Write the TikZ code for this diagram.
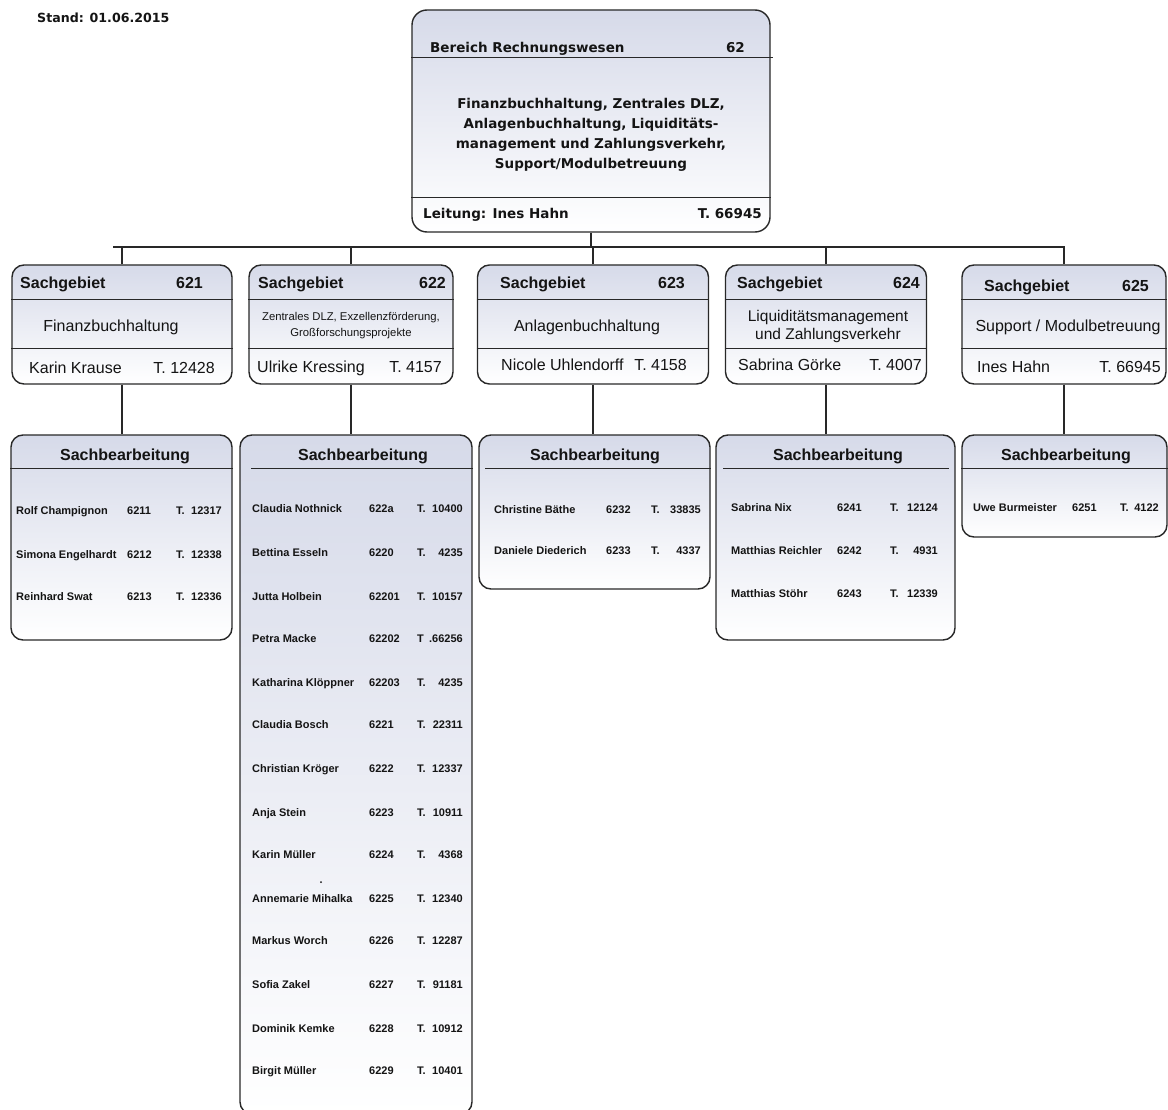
\documentclass[tikz,border=0pt]{standalone}
\usepackage{fontspec}
\setmainfont{Liberation Sans}
\newfontfamily\djv{DejaVu Sans}
\usetikzlibrary{calc}
\definecolor{boxtop}{RGB}{214,218,233}
\definecolor{boxmid}{RGB}{234,236,244}
\definecolor{boxline}{RGB}{40,40,40}
\definecolor{txt}{RGB}{20,20,20}
\tikzset{
  orgbox/.style={draw=boxline, line width=1.4pt, rounded corners=12pt,
    top color=boxtop, middle color=boxmid, bottom color=white, inner sep=0pt},
  sepline/.style={draw=boxline, line width=1.2pt},
  conn/.style={draw=boxline, line width=1.8pt},
  topfont/.style={font=\djv\bfseries\fontsize{13.5}{19.8}\selectfont, text=txt, inner sep=0pt, yshift=-2.5pt},
  sghead/.style={font=\bfseries\fontsize{16}{19}\selectfont, text=txt, inner sep=0pt, yshift=-3pt},
  sgbody/.style={font=\fontsize{16}{18}\selectfont, text=txt, inner sep=0pt, yshift=-2pt},
  sgsmall/.style={font=\fontsize{11.3}{16}\selectfont, text=txt, inner sep=0pt, align=center, yshift=-2pt},
  rowtxt/.style={font=\bfseries\fontsize{11}{13}\selectfont, text=txt, inner sep=0pt, yshift=-2pt},
}
\newcommand\hsep[4]{\draw[sepline] ($(#1.north west)+(#3,#2)$) -- ($(#1.north east)+(-#4,#2)$);}
\newcommand\orgrow[6]{%
  \node[rowtxt, anchor=mid west] (#1n) at (\xName,#2) {#3};
  \node[rowtxt, anchor=mid west] (#1c) at (\xCode,#2) {#4};
  \node[rowtxt, anchor=mid west] (#1t) at (\xTel,#2) {#5};
  \node[rowtxt, anchor=mid east] (#1r) at (\xNum,#2) {#6};}
\begin{document}
\begin{tikzpicture}[x=1pt,y=-1pt]
\useasboundingbox (0,0) rectangle (1168,1110);
\fill[white] (0,0) rectangle (1168,1110);

% Stand
\node[font=\djv\bfseries\fontsize{12.6}{15}\selectfont, text=txt, inner sep=0pt, anchor=mid west, yshift=-2.5pt] (stand) at (37,17) {Stand: 01.06.2015};

% top box
\node[orgbox, rounded corners=15pt, minimum width=358pt, minimum height=222pt] (top) at (591,121) {};
\hsep{top}{48}{0}{-2}
\hsep{top}{188}{0}{0}
\node[topfont, anchor=mid west] (toph) at (430,47) {Bereich Rechnungswesen};
\node[topfont, anchor=mid east] (topn) at (745,47) {62};
\node[topfont, align=center, yshift=0.5pt] (topb) at (591,133) {Finanzbuchhaltung, Zentrales DLZ,\\Anlagenbuchhaltung, Liquiditäts-\\management und Zahlungsverkehr,\\Support/Modulbetreuung};
\node[topfont, anchor=mid west] (topl) at (423,213) {Leitung: Ines Hahn};
\node[topfont, anchor=mid east] (topt) at (762,213) {T. 66945};

% Sachgebiet boxes
\node[orgbox, minimum width=220pt, minimum height=119pt] (sg1) at (122,324.5) {};
\node[orgbox, minimum width=204pt, minimum height=119pt] (sg2) at (351,324.5) {};
\node[orgbox, minimum width=231pt, minimum height=119pt] (sg3) at (593,324.5) {};
\node[orgbox, minimum width=201pt, minimum height=119pt] (sg4) at (826,324.5) {};
\node[orgbox, minimum width=204pt, minimum height=119pt] (sg5) at (1064,324.5) {};
\foreach \b in {sg1,sg2,sg3,sg4,sg5}{\hsep{\b}{35}{0}{0}\hsep{\b}{84}{0}{0}}

\node[sghead, anchor=mid west] (sg1h) at (20,283) {Sachgebiet};
\node[sghead, anchor=mid east] (sg1n) at (203,283) {621};
\node[sgbody] (sg1b) at (111,325) {Finanzbuchhaltung};
\node[sgbody, anchor=mid west] (sg1l) at (29,369) {Karin Krause};
\node[sgbody, anchor=mid east] (sg1t) at (215,369) {T. 12428};

\node[sghead, anchor=mid west] (sg2h) at (258,283) {Sachgebiet};
\node[sghead, anchor=mid east] (sg2n) at (446,283) {622};
\node[sgsmall] (sg2b) at (351,324) {Zentrales DLZ, Exzellenzförderung,\\Großforschungsprojekte};
\node[sgbody, anchor=mid west] (sg2l) at (257,368) {Ulrike Kressing};
\node[sgbody, anchor=mid east] (sg2t) at (442,368) {T. 4157};

\node[sghead, anchor=mid west] (sg3h) at (500,283) {Sachgebiet};
\node[sghead, anchor=mid east] (sg3n) at (685,283) {623};
\node[sgbody] (sg3b) at (587,325) {Anlagenbuchhaltung};
\node[sgbody, anchor=mid west] (sg3l) at (501,366) {Nicole Uhlendorff};
\node[sgbody, anchor=mid east] (sg3t) at (687,366) {T. 4158};

\node[sghead, anchor=mid west] (sg4h) at (737,283) {Sachgebiet};
\node[sghead, anchor=mid east] (sg4n) at (920,283) {624};
\node[sgbody, align=center, font=\fontsize{15.5}{18}\selectfont, yshift=-1pt] (sg4b) at (828,323) {Liquiditätsmanagement\\und Zahlungsverkehr};
\node[sgbody, anchor=mid west] (sg4l) at (738,366) {Sabrina Görke};
\node[sgbody, anchor=mid east] (sg4t) at (922,366) {T. 4007};

\node[sghead, anchor=mid west] (sg5h) at (984,286) {Sachgebiet};
\node[sghead, anchor=mid east] (sg5n) at (1149,286) {625};
\node[sgbody] (sg5b) at (1068,325) {Support / Modulbetreuung};
\node[sgbody, anchor=mid west] (sg5l) at (977,368) {Ines Hahn};
\node[sgbody, anchor=mid east] (sg5t) at (1161,368) {T. 66945};

% Sachbearbeitung boxes
\node[orgbox, minimum width=221pt, minimum height=205pt] (sb1) at (121.5,537.5) {};
\node[orgbox, minimum width=232pt, minimum height=679pt] (sb2) at (356,774.5) {};
\node[orgbox, minimum width=231pt, minimum height=154pt] (sb3) at (594.5,512) {};
\node[orgbox, minimum width=239pt, minimum height=205pt] (sb4) at (835.5,537.5) {};
\node[orgbox, minimum width=205pt, minimum height=102pt] (sb5) at (1064.5,486) {};
\hsep{sb1}{34}{0}{0}
\hsep{sb2}{34}{12}{0}
\hsep{sb3}{34}{7}{0}
\hsep{sb4}{34}{8}{7}
\hsep{sb5}{34}{0}{0}
\node[sghead] (sb1h) at (125,453) {Sachbearbeitung};
\node[sghead] (sb2h) at (363,453) {Sachbearbeitung};
\node[sghead] (sb3h) at (595,453) {Sachbearbeitung};
\node[sghead] (sb4h) at (838,453) {Sachbearbeitung};
\node[sghead] (sb5h) at (1066,453) {Sachbearbeitung};

% connectors
\coordinate (busL) at (113,247);
\coordinate (busR) at (1065,247);
\draw[conn] (busL) -- (busR);
\draw[conn] (top.south) -- (top.south |- busL);
\foreach \i in {1,...,5}{
  \draw[conn] (sg\i.north) -- (sg\i.north |- busL);
  \draw[conn] (sg\i.south) -- (sg\i.south |- sb\i.north);
}

% rows 621
\def\xName{16}\def\xCode{127}\def\xTel{176}\def\xNum{222}
\orgrow{a1}{510}{Rolf Champignon}{6211}{T.}{12317}
\orgrow{a2}{554}{Simona Engelhardt}{6212}{T.}{12338}
\orgrow{a3}{596}{Reinhard Swat}{6213}{T.}{12336}

% rows 622
\def\xName{252}\def\xCode{369}\def\xTel{417}\def\xNum{463}
\orgrow{b1}{508}{Claudia Nothnick}{622a}{T.}{10400}
\orgrow{b2}{552}{Bettina Esseln}{6220}{T.}{4235}
\orgrow{b3}{596}{Jutta Holbein}{62201}{T.}{10157}
\orgrow{b4}{638}{Petra Macke}{62202}{T}{.66256}
\orgrow{b5}{682}{Katharina Klöppner}{62203}{T.}{4235}
\orgrow{b6}{724}{Claudia Bosch}{6221}{T.}{22311}
\orgrow{b7}{768}{Christian Kröger}{6222}{T.}{12337}
\orgrow{b8}{812}{Anja Stein}{6223}{T.}{10911}
\orgrow{b9}{854}{Karin Müller}{6224}{T.}{4368}
\orgrow{b10}{898}{Annemarie Mihalka}{6225}{T.}{12340}
\orgrow{b11}{940}{Markus Worch}{6226}{T.}{12287}
\orgrow{b12}{984}{Sofia Zakel}{6227}{T.}{91181}
\orgrow{b13}{1028}{Dominik Kemke}{6228}{T.}{10912}
\orgrow{b14}{1070}{Birgit Müller}{6229}{T.}{10401}
\fill[txt] (321,882) circle (1pt);

% rows 623
\def\xName{494}\def\xCode{606}\def\xTel{651}\def\xNum{701}
\orgrow{c1}{509}{Christine Bäthe}{6232}{T.}{33835}
\orgrow{c2}{550}{Daniele Diederich}{6233}{T.}{4337}

% rows 624
\def\xName{731}\def\xCode{837}\def\xTel{890}\def\xNum{938}
\orgrow{d1}{507}{Sabrina Nix}{6241}{T.}{12124}
\orgrow{d2}{550}{Matthias Reichler}{6242}{T.}{4931}
\orgrow{d3}{593}{Matthias Stöhr}{6243}{T.}{12339}

% rows 625
\def\xName{973}\def\xCode{1072}\def\xTel{1120}\def\xNum{1159}
\orgrow{e1}{507}{Uwe Burmeister}{6251}{T.}{4122}
\end{tikzpicture}
\end{document}
